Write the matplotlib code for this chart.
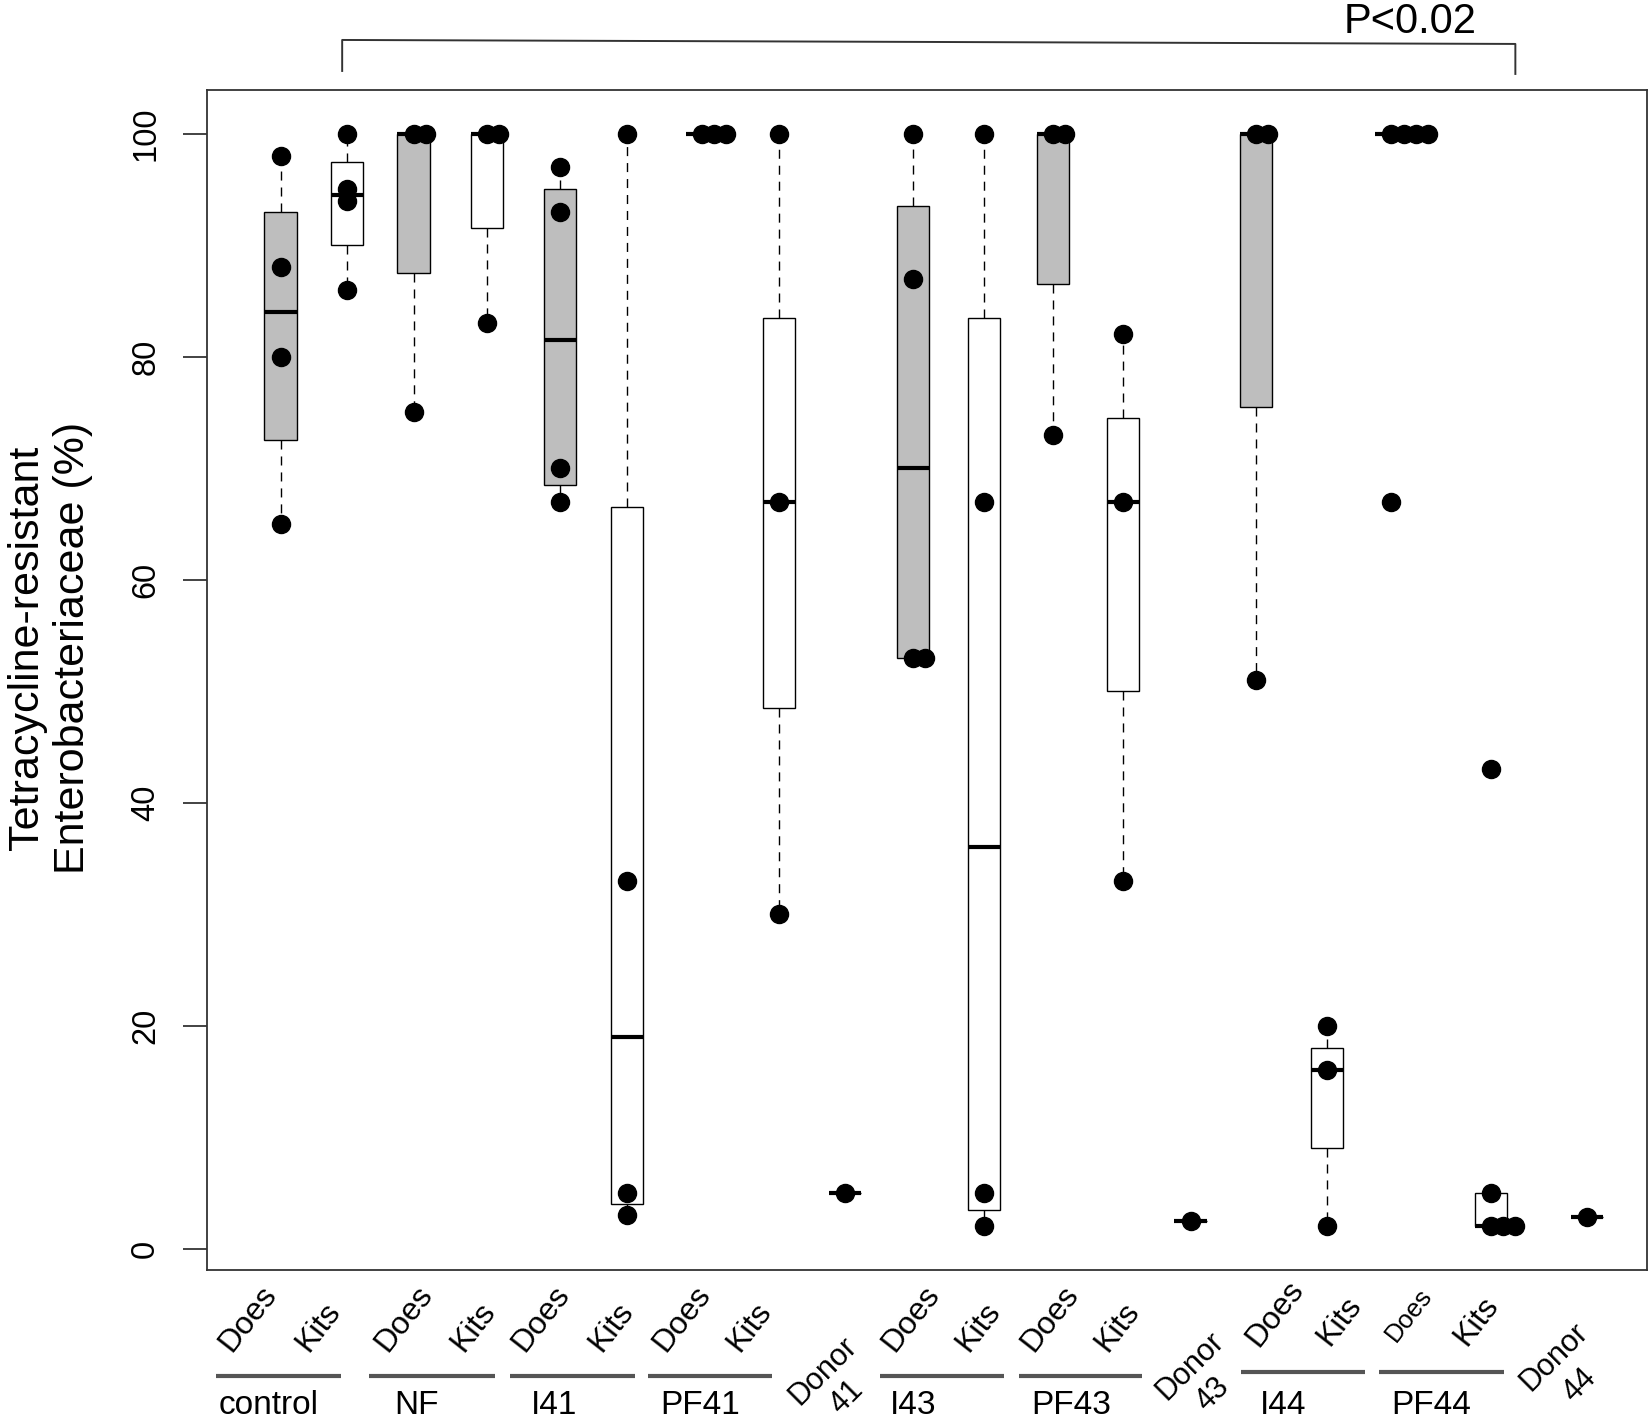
import numpy as np
import matplotlib
matplotlib.use('Agg')
import matplotlib.pyplot as plt
from matplotlib.transforms import blended_transform_factory

plt.rcParams['font.family'] = ['Liberation Sans', 'DejaVu Sans']

# ---------------- data ----------------
box_types = ['Does', 'Kits', 'Does', 'Kits', 'Does', 'Kits', 'Does', 'Kits', 'Donor',
             'Does', 'Kits', 'Does', 'Kits', 'Donor', 'Does', 'Kits', 'Does', 'Kits', 'Donor']
control_does = [98, 88, 80, 65]
control_kits = [100, 95, 94, 86]
nf_does = [100, 100, 75]
nf_kits = [100, 100, 83]
i41_does = [97, 93, 70, 67]
i41_kits = [100, 33, 5, 3]
pf41_does = [100, 100, 100]
pf41_kits = [100, 67, 30]
donor41 = [5]
i43_does = [100, 87, 53, 53]
i43_kits = [100, 67, 5, 2]
pf43_does = [100, 100, 73]
pf43_kits = [82, 67, 33]
donor43 = [2.5]
i44_does = [100, 100, 51]
i44_kits = [20, 16, 2]
pf44_does = [100, 100, 100, 100, 67]
pf44_kits = [43, 5, 2, 2, 2]
donor44 = [2.8]

values = [control_does, control_kits, nf_does, nf_kits, i41_does, i41_kits,
          pf41_does, pf41_kits, donor41, i43_does, i43_kits, pf43_does, pf43_kits,
          donor43, i44_does, i44_kits, pf44_does, pf44_kits, donor44]

group_names = ['control', 'NF', 'I41', 'PF41', 'I43', 'PF43', 'I44', 'PF44']
donor_word = 'Donor'
donor_numbers = ['41', '43', '44']
y_ticks = [0, 20, 40, 60, 80, 100]
y_label = 'Tetracycline-resistant\nEnterobacteriaceae (%)'
p_text = 'P<0.02'

# ---------------- layout ----------------
positions = [1.05, 2.0, 2.95, 4.0, 5.04, 6.0, 7.07, 8.17, 9.11, 10.08, 11.1,
             12.08, 13.08, 14.05, 14.98, 16.0, 16.92, 18.34, 19.71]
sub_label_x = [0.345, 1.445, 2.575, 3.66, 4.54, 5.635, 6.545, 7.605, 9.815, 10.875,
               11.805, 12.86, 15.015, 16.04, 16.985, 17.99]
sub_label_y = [0.0485] * 12 + [0.052, 0.0527, 0.0556, 0.0527]
sub_label_size = [23] * 14 + [18.5, 23]
donor_word_xy = [(9.07, 0.064), (14.31, 0.0675), (19.51, 0.0738)]
donor_num_xy = [(9.13, 0.0175), (14.36, 0.0195), (19.61, 0.0255)]
bar_extents = [(0.125, 1.913), (2.32, 4.108), (4.334, 6.107), (6.303, 8.077),
               (9.61, 11.384), (11.594, 13.353), (14.767, 16.54), (16.736, 18.524)]
bar_y = [0.0321] * 6 + [0.0350, 0.0350]
group_label_x = [0.88, 2.99, 4.95, 7.04, 10.09, 12.34, 15.37, 17.49]
stack_offset = 0.175
box_width = 0.46


def fivenum(x):
    x = np.sort(np.asarray(x, dtype=float))
    n = len(x)
    n4 = np.floor((n + 3) / 2) / 2
    d = np.array([1, n4, (n + 1) / 2, n + 1 - n4, n])
    return 0.5 * (x[np.floor(d).astype(int) - 1] + x[np.ceil(d).astype(int) - 1])


stats = []
for v in values:
    f = fivenum(v)
    iqr = f[3] - f[1]
    arr = np.asarray(v, dtype=float)
    lo = arr[arr >= f[1] - 1.5 * iqr].min()
    hi = arr[arr <= f[3] + 1.5 * iqr].max()
    stats.append(dict(med=f[2], q1=f[1], q3=f[3], whislo=lo, whishi=hi, fliers=[]))

fig = plt.figure(figsize=(16.5, 14.22), dpi=100)
ax = fig.add_axes([0.1255, 0.1069, 0.9982 - 0.1255, 0.9367 - 0.1069])

res = ax.bxp(stats, positions=positions, widths=box_width, patch_artist=True,
             showfliers=False, capwidths=box_width * 0.5,
             boxprops=dict(edgecolor='black', linewidth=1.0),
             medianprops=dict(color='black', linewidth=3.0, solid_capstyle='butt'),
             whiskerprops=dict(color='black', linewidth=1.0, linestyle=(0, (6.5, 5))),
             capprops=dict(color='black', linewidth=1.0))
for patch, t in zip(res['boxes'], box_types):
    patch.set_facecolor('#BEBEBE' if t == 'Does' else 'white')

# stacked points (stripchart, method = "stack")
for v, p in zip(values, positions):
    seen = {}
    xs, ys = [], []
    for val in v:
        k = seen.get(val, 0)
        seen[val] = k + 1
        xs.append(p + k * stack_offset)
        ys.append(val)
    ax.plot(xs, ys, 'o', color='black', markersize=13, zorder=5, clip_on=False)

ax.set_xlim(0, 20.571)
ax.set_ylim(-1.92, 103.92)
ax.set_xticks([])
ax.set_yticks(y_ticks)
ax.set_yticklabels([str(t) for t in y_ticks], rotation=90, va='center', fontsize=23.5)
ax.tick_params(axis='y', length=17, width=1.2, pad=16, color='#222222')
for s in ax.spines.values():
    s.set_linewidth(1.3)
    s.set_color('#333333')

trans = blended_transform_factory(ax.transData, fig.transFigure)

# sub-labels (Does / Kits)
sub_texts = [t for t in box_types if t != 'Donor']
for txt, x, y, fs in zip(sub_texts, sub_label_x, sub_label_y, sub_label_size):
    fig.text(x, y, txt, transform=trans, rotation=52, rotation_mode='anchor',
             ha='left', va='baseline', fontsize=fs)

for num, (xw, yw), (xn, yn) in zip(donor_numbers, donor_word_xy, donor_num_xy):
    fig.text(xw, yw, donor_word, transform=trans, rotation=45, rotation_mode='anchor',
             ha='right', va='top', fontsize=22)
    fig.text(xn, yn, num, transform=trans, rotation=45, rotation_mode='anchor',
             ha='center', va='center', fontsize=22)

for (x0, x1), y in zip(bar_extents, bar_y):
    ax.plot([x0, x1], [y, y], transform=trans, color='#555555', linewidth=3,
            solid_capstyle='butt', clip_on=False)

for name, x in zip(group_names, group_label_x):
    fig.text(x, 0.0056, name, transform=trans, ha='center', va='baseline', fontsize=24)

# significance bracket
ax.plot([1.93, 1.93, 18.69, 18.69], [0.9501, 0.9719, 0.9691, 0.948], transform=trans,
        color='#333333', linewidth=1.4, clip_on=False)
fig.text(17.19, 0.9768, p_text, transform=trans, ha='center', va='baseline', fontsize=30)

fig.text(0.0303, 0.5443, y_label, rotation=90, ha='center', va='center',
         multialignment='center', fontsize=31, linespacing=1.2)

fig.savefig('out.png', dpi=100)
